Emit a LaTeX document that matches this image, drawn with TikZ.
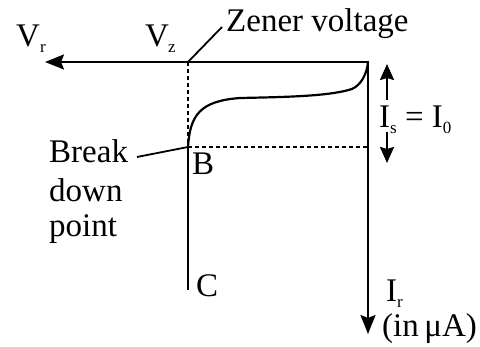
\documentclass[tikz,border=0pt]{standalone}
\usepackage{fontspec}
\setmainfont{Liberation Serif}
\usetikzlibrary{arrows.meta}
\newcommand\sbs[1]{\raisebox{-6pt}{\fontsize{17}{17}\selectfont #1}}
\begin{document}
\begin{tikzpicture}[x=1pt,y=-1pt,
  ln/.style={line width=2.2pt},
  dsh/.style={line width=2.2pt, dash pattern=on 4pt off 3pt},
  lead/.style={line width=1.8pt},
  smalltip/.style={-{Stealth[length=16pt,width=14pt,inset=2pt]}},
  lbl/.style={inner sep=0pt, anchor=base west, font=\fontsize{33}{37}\selectfont}]
\useasboundingbox (0,0) rectangle (480,347);
% key points
\coordinate (O) at (368,62);
\coordinate (vrtip) at (45,62);
\coordinate (irtip) at (368,334);
\coordinate (zv) at (188,62);
\coordinate (B) at (188,147);
\coordinate (Cpt) at (188,290);
\coordinate (bi) at (368,147);
\coordinate (zl) at (222,27);
\coordinate (bl) at (137,157);
\coordinate (up1) at (387,100);
\coordinate (up2) at (387,64);
\coordinate (dn1) at (387,132);
\coordinate (dn2) at (387,163);
% axes
\draw[ln, line join=miter, {Stealth[length=19pt,width=15pt,inset=3pt]}-{Stealth[length=19pt,width=15pt,inset=3pt]}] (vrtip) -- (O) -- (irtip);
% dashed guides
\draw[dsh] (zv) -- (B);
\draw[dsh] (B) -- (bi);
% breakdown vertical
\draw[ln] (B) -- (Cpt);
% characteristic curve
\draw[ln] (B) .. controls (190,115) and (200,101) .. (240,98)
  .. controls (290,97) and (330,96) .. (352,89)
  .. controls (361,85) and (367,74) .. (O);
% leaders
\draw[lead] (zv) -- (zl);
\draw[lead] (bl) -- (B);
% Is arrows
\draw[ln, smalltip] (up1) -- (up2);
\draw[ln, smalltip] (dn1) -- (dn2);
% labels
\node[lbl] (vr) at (16,47) {V\sbs{r}};
\node[lbl] (vz) at (145,47) {V\kern-1pt\sbs{z}};
\node[lbl] (zener) at (226,32) {Zener voltage};
\node[lbl] (brk) at (49,163) {Break};
\node[lbl] (dwn) at (49,202) {down};
\node[lbl] (pnt) at (49,237) {point};
\node[lbl] (Blbl) at (192,175) {B};
\node[lbl] (Clbl) at (196,297) {C};
\node[lbl] (isl) at (379,128) {I\sbs{s} = I\sbs{0}};
\node[lbl] (irl) at (386,302) {I\sbs{r}};
\node[lbl] (unit) at (382,337) {(in\,μA)};
\end{tikzpicture}
\end{document}
